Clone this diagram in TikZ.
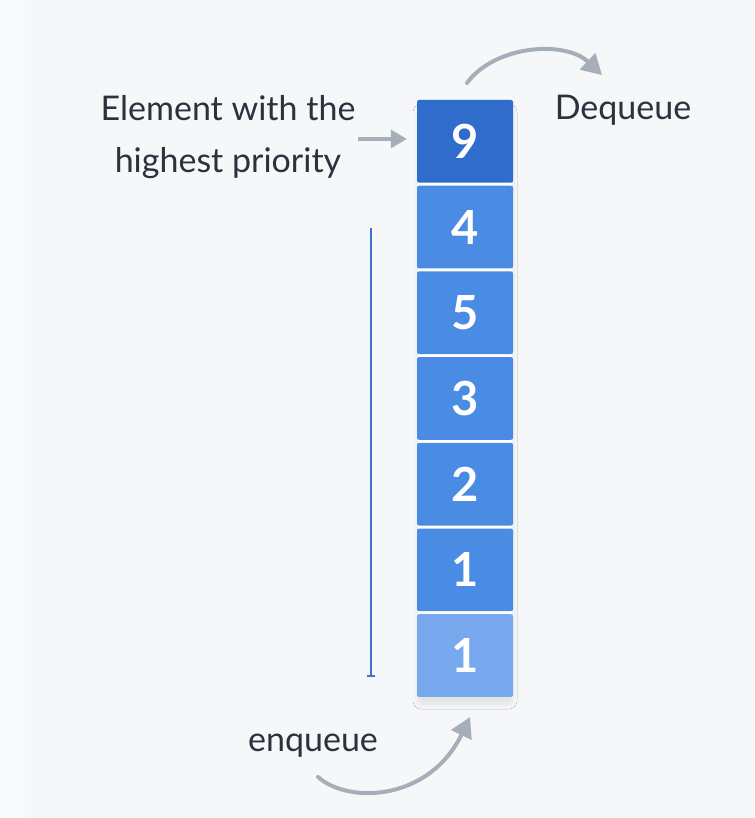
\documentclass[tikz,border=0pt]{standalone}
\usepackage{fontspec}
\setmainfont{Lato}
\usetikzlibrary{arrows.meta,shadows.blur}

\definecolor{pagebg}{HTML}{F6F7F9}
\definecolor{pageedge}{HTML}{F9FAFB}
\definecolor{inkdark}{HTML}{2B323D}
\definecolor{topblue}{HTML}{2F6CCB}
\definecolor{midblue}{HTML}{4A8BE4}
\definecolor{lowblue}{HTML}{78A9EF}
\definecolor{guideblue}{HTML}{3F74CC}
\definecolor{arrowgray}{HTML}{A6AEB9}

\tikzset{
  cell/.style={draw=none, minimum width=96pt, minimum height=82.7pt,
    rounded corners=2pt, text=white, font=\fontsize{47}{47}\selectfont\bfseries,
    inner sep=0pt},
  label/.style={text=inkdark, font=\fontsize{34}{52}\selectfont, inner sep=0pt},
  flow/.style={draw=arrowgray, line width=4pt, line cap=round,
    -{Triangle[width=22pt,length=20pt]}},
  pointer/.style={draw=arrowgray, line width=3.5pt,
    -{Triangle[width=18pt,length=16pt]}},
  guide/.style={draw=guideblue, line width=2pt, -{Bar[width=8pt]}}
}

\begin{document}
\begin{tikzpicture}[x=1pt, y=-1pt]
  % page
  \fill[pageedge] (0,0) rectangle (754,818);
  \fill[pagebg] (25,0) rectangle (754,818);
  \useasboundingbox (0,0) rectangle (754,818);

  % soft shadow under the whole stack
  \path[fill=white, rounded corners=3pt, blur shadow={shadow blur steps=10,
      shadow xshift=0pt, shadow yshift=-7pt, shadow opacity=8,
      shadow blur radius=5pt}]
    (418,102) rectangle (512,697);

  % stack of queued values, highest priority on top
  \node[cell, fill=topblue] (c1) at (465,141.35) {9};
  \node[cell, fill=midblue] (c2) at (465,227.05) {4};
  \node[cell, fill=midblue] (c3) at (465,312.75) {5};
  \node[cell, fill=midblue] (c4) at (465,398.45) {3};
  \node[cell, fill=midblue] (c5) at (465,484.15) {2};
  \node[cell, fill=midblue] (c6) at (465,569.85) {1};
  \node[cell, fill=lowblue] (c7) at (465,655.55) {1};

  % labels
  \node[label, align=center] (top) at (228,137) {Element with the\\highest priority};
  \node[label] (deq) at (623,110) {Dequeue};
  \node[label] (enq) at (313,746) {enqueue};

  % pointer to the top element
  \coordinate (ptail) at (358,139);
  \draw[pointer, shorten >=10pt] (ptail) -- (ptail -| c1.west);

  % order guide beside the stack
  \coordinate (gtop) at (371,228);
  \coordinate (gend) at (371,677);
  \draw[guide] (gtop) -- (gend);

  % dequeue and enqueue arrows
  \coordinate (dstart) at (467,83);
  \coordinate (dend) at (602,75);
  \draw[flow] (dstart) .. controls (495,45) and (565,40) .. (dend);

  \coordinate (estart) at (318,777);
  \coordinate (eend) at (470,717);
  \draw[flow] (estart) .. controls (350,805) and (430,800) .. (eend);
\end{tikzpicture}
\end{document}
